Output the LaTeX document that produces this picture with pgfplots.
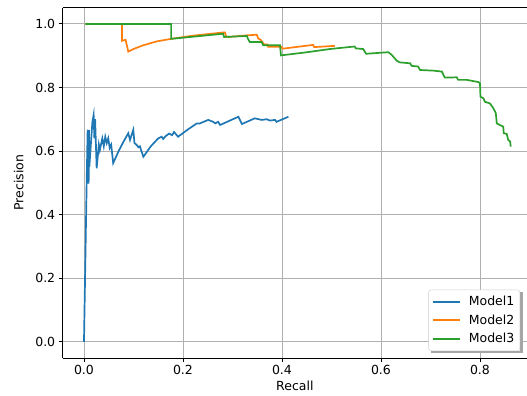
\documentclass[border=0pt]{standalone}
\usepackage{fontspec}
\setmainfont{DejaVu Sans}
\usepackage{pgfplots}
\pgfplotsset{compat=1.18}
\definecolor{tabblue}{HTML}{1F77B4}
\definecolor{taborange}{HTML}{FF7F0E}
\definecolor{tabgreen}{HTML}{2CA02C}
\begin{document}
\begin{tikzpicture}
\begin{axis}[
  name=ax,
  scale only axis,
  width=464.3bp, height=350.3bp,
  xmin=-0.043, xmax=0.895,
  ymin=-0.051, ymax=1.051,
  axis y line*=left,
  axis x line*=box,
  xtick pos=bottom,
  xtick={0,0.2,0.4,0.6,0.8},
  ytick={0,0.2,0.4,0.6,0.8,1.0},
  /pgf/number format/assume math mode=true,
  /pgf/number format/fixed,
  /pgf/number format/fixed zerofill,
  /pgf/number format/precision=1,
  tick label style={font=\fontsize{12.5bp}{14bp}\selectfont},
  label style={font=\fontsize{12.5bp}{14bp}\selectfont},
  tick align=outside,
  major tick length=4bp,
  every tick/.style={black, line width=0.9bp},
  axis line style={line width=0.9bp, black},
  grid=major,
  major grid style={color=black!31, line width=0.9bp},
  xlabel={Recall},
  ylabel={Precision},
  xlabel style={yshift=1bp},
  ylabel style={yshift=5bp},
  legend cell align=left,
  legend image code/.code={\draw[#1, line width=1.8bp] (0bp,0bp) -- (27bp,0bp); \path (33bp,0bp);},
  legend style={name=leg, at={(0.985,0.02)}, anchor=south east,
    font=\fontsize{12.5bp}{14bp}\selectfont,
    draw=black!20, rounded corners=2.5bp, fill=white,
    inner xsep=3.5bp, inner ysep=4.5bp, row sep=3.5bp},
]
\addplot[tabblue, line width=1.7bp] coordinates {
(0,0) (0.0054,0.50) (0.0074,0.667) (0.0081,0.50) (0.0094,0.50) (0.0101,0.667) (0.0108,0.55)
(0.017,0.692) (0.0195,0.714) (0.021,0.64) (0.0225,0.70) (0.0256,0.546) (0.030,0.62)
(0.032,0.603) (0.037,0.64) (0.040,0.615) (0.043,0.645) (0.046,0.625) (0.049,0.64)
(0.052,0.61) (0.055,0.62) (0.059,0.562) (0.070,0.60) (0.080,0.63) (0.0895,0.656)
(0.093,0.635) (0.0996,0.667) (0.102,0.625) (0.106,0.62) (0.110,0.612) (0.113,0.615)
(0.116,0.60) (0.120,0.582) (0.135,0.615) (0.150,0.64) (0.157,0.645) (0.160,0.638)
(0.165,0.647) (0.172,0.655) (0.178,0.65) (0.182,0.66) (0.190,0.645) (0.210,0.668)
(0.228,0.687) (0.234,0.687) (0.251,0.698) (0.261,0.692) (0.265,0.687) (0.271,0.692)
(0.275,0.682) (0.312,0.708) (0.319,0.685) (0.345,0.703) (0.359,0.698) (0.369,0.700)
(0.376,0.696) (0.386,0.698) (0.389,0.692) (0.413,0.708)
};
\addlegendentry{Model1}
\addplot[taborange, line width=1.7bp] coordinates {
(0.003,1.0) (0.077,1.0) (0.077,0.947) (0.084,0.950) (0.0895,0.913) (0.100,0.921)
(0.120,0.933) (0.147,0.945) (0.176,0.953) (0.220,0.963) (0.281,0.973) (0.285,0.973)
(0.287,0.960) (0.292,0.959) (0.329,0.964) (0.349,0.966) (0.352,0.954) (0.357,0.950)
(0.364,0.935) (0.371,0.935) (0.372,0.928) (0.399,0.928) (0.401,0.922) (0.463,0.934)
(0.465,0.927) (0.507,0.931)
};
\addlegendentry{Model2}
\addplot[tabgreen, line width=1.7bp] coordinates {
(0.003,1.0) (0.176,1.0) (0.176,0.953) (0.281,0.969) (0.283,0.959) (0.329,0.962)
(0.331,0.954) (0.335,0.943) (0.359,0.943) (0.362,0.933) (0.396,0.933) (0.398,0.901)
(0.446,0.910) (0.497,0.921) (0.547,0.929) (0.549,0.923) (0.564,0.921) (0.570,0.906)
(0.615,0.911) (0.622,0.902) (0.632,0.884) (0.638,0.879) (0.659,0.876) (0.662,0.868)
(0.675,0.866) (0.679,0.855) (0.706,0.853) (0.723,0.850) (0.729,0.831) (0.753,0.832)
(0.756,0.824) (0.773,0.824) (0.797,0.817) (0.800,0.813) (0.801,0.771) (0.807,0.766)
(0.810,0.755) (0.820,0.750) (0.827,0.735) (0.832,0.719) (0.834,0.687) (0.840,0.682)
(0.847,0.677) (0.848,0.656) (0.854,0.654) (0.857,0.635) (0.861,0.630) (0.862,0.614)
};
\addlegendentry{Model3}
\end{axis}
\fill[black!35] ([shift={(2.5bp,-2.5bp)}]leg.south west) rectangle ([shift={(2.5bp,0bp)}]leg.south east);
\fill[black!35] ([shift={(0bp,-2.5bp)}]leg.south east) rectangle ([shift={(2.5bp,-2.5bp)}]leg.north east);
\pgfresetboundingbox
\path[use as bounding box] ([shift={(-62.7bp,-38bp)}]ax.south west) rectangle ([shift={(0bp,7.7bp)}]ax.north east);
\end{tikzpicture}
\end{document}
